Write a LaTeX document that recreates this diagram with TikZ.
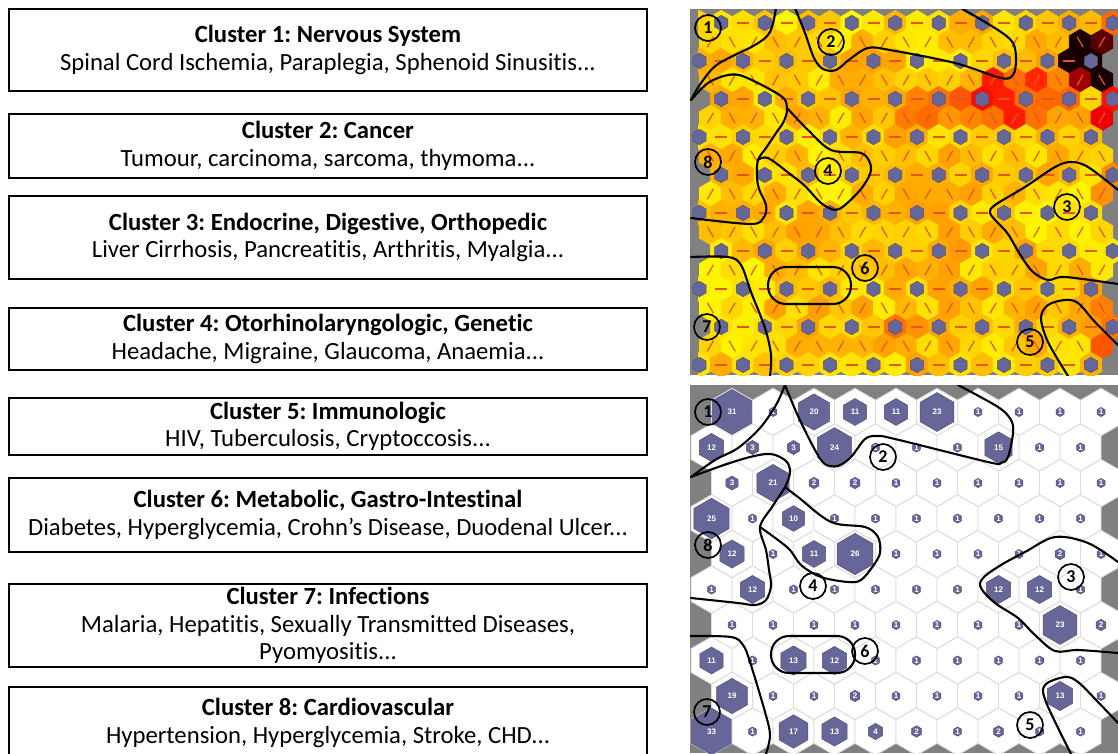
\documentclass[tikz,border=0pt]{standalone}
\usepackage{fontspec}
\setmainfont{Carlito}[Ligatures=NoCommon]
\newfontfamily\hitsfont{Liberation Sans}
\frenchspacing
\definecolor{somblue}{RGB}{102,102,153}
\definecolor{somedge}{RGB}{80,80,125}
\definecolor{panelgray}{RGB}{128,128,128}
\definecolor{cellgray}{RGB}{220,220,220}
\definecolor{linkred}{RGB}{232,84,30}

\tikzset{
  declare function={
    bump(\qx,\qy,\ox,\oy,\amp,\sx,\sy)=\amp*min(1,2*max(0,1-((\qx-\ox)/\sx)*((\qx-\ox)/\sx)-((\qy-\oy)/\sy)*((\qy-\oy)/\sy)));
  },
  clusterbox/.style={draw, line width=1.7pt, minimum width=638pt, inner sep=0pt,
    align=center, font=\fontsize{24.7}{27.5}\selectfont},
  ring/.style={circle, draw, line width=1.7pt, minimum size=26pt, inner sep=0pt,
    font=\bfseries\fontsize{18}{18}\selectfont},
  outline/.style={line width=2.1pt, line cap=round, line join=round},
  hitnum/.style={text=white, inner sep=0pt, font=\hitsfont\bfseries\fontsize{8}{8}\selectfont},
  link/.style={draw=linkred, line width=1.2pt},
  neuron/.style={fill=somblue, draw=somedge, line width=0.5pt},
}

\begin{document}
\begin{tikzpicture}[x=1pt,y=-1pt]
\useasboundingbox (0,0) rectangle (1118,753);
\clip (0,0) rectangle (1118,753);

% ---------------- cluster descriptions ----------------
\node[clusterbox, minimum height=82pt] (c1) at (328,50)
  {\textbf{Cluster 1: Nervous System}\\Spinal Cord Ischemia, Paraplegia, Sphenoid Sinusitis...};
\node[clusterbox, minimum height=64pt] (c2) at (328,146)
  {\textbf{Cluster 2: Cancer}\\Tumour, carcinoma, sarcoma, thymoma...};
\node[clusterbox, minimum height=83pt] (c3) at (328,237.5)
  {\textbf{Cluster 3: Endocrine, Digestive, Orthopedic}\\Liver Cirrhosis, Pancreatitis, Arthritis, Myalgia...};
\node[clusterbox, minimum height=62pt] (c4) at (328,339)
  {\textbf{Cluster 4: Otorhinolaryngologic, Genetic}\\Headache, Migraine, Glaucoma, Anaemia...};
\node[clusterbox, minimum height=57pt] (c5) at (328,426.5)
  {\textbf{Cluster 5: Immunologic}\\HIV, Tuberculosis, Cryptoccosis...};
\node[clusterbox, minimum height=74pt] (c6) at (328,515)
  {\textbf{Cluster 6: Metabolic, Gastro-Intestinal}\\Diabetes, Hyperglycemia, Crohn’s Disease, Duodenal Ulcer...};
\node[clusterbox, minimum height=83pt] (c7) at (328,625.5)
  {\textbf{Cluster 7: Infections}\\Malaria, Hepatitis, Sexually Transmitted Diseases,\\Pyomyositis...};
\node[clusterbox, minimum height=72pt] (c8) at (328,723)
  {\textbf{Cluster 8: Cardiovascular}\\Hypertension, Hyperglycemia, Stroke, CHD...};

% ---------------- neighbour distance map ----------------
\fill[panelgray] (690,9) rectangle (1118,375);
\begin{scope}
\clip (698,9) rectangle (1118,375);
\pgfmathsetseed{12}
\foreach \j in {0,...,18}{
  \foreach \i in {0,...,19}{
    \pgfmathtruncatemacro\jm{mod(\j,4)}
    \pgfmathtruncatemacro\keep{((\jm==0)&&(\i==0)&&(\j>0))||((\jm!=0)&&(\i==19))?0:1}
    \ifnum\keep=1
      \pgfmathsetmacro\hx{699.5+21.75*\i+10.875*mod(\j,2)}
      \pgfmathsetmacro\hy{23+19*\j}
      \pgfmathsetmacro\hv{0.02+0.32*rnd
        +bump(\hx,\hy,1091,61,0.85,30,30)
        +bump(\hx,\hy,1102,80,0.25,9,9)
        +bump(\hx,\hy,1015,100,0.45,65,35)
        +bump(\hx,\hy,930,105,0.22,50,30)
        +bump(\hx,\hy,1110,112,0.55,20,25)
        +bump(\hx,\hy,1110,190,0.35,20,25)
        +bump(\hx,\hy,1103,315,0.3,20,45)
        +bump(\hx,\hy,910,328,0.3,30,20)
        +bump(\hx,\hy,955,245,0.2,25,20)
        +bump(\hx,\hy,1112,23,0.25,15,15)
        +bump(\hx,\hy,1060,215,-0.2,50,40)
        +bump(\hx,\hy,730,300,-0.15,40,60)
        +bump(\hx,\hy,780,30,-0.12,80,30)
        +bump(\hx,\hy,830,170,-0.1,50,30)}
      \pgfmathsetmacro\hv{min(1,max(0,\hv))}
      \pgfmathtruncatemacro\colr{\hv<=0.8 ? 255 : 255-(\hv-0.8)*1150}
      \pgfmathtruncatemacro\colg{\hv<=0.8 ? max(0,245-250*\hv-(\hv>0.6)*(\hv-0.6)*275) : 0}
      \definecolor{hc}{RGB}{\colr,\colg,0}
      \filldraw[fill=hc, draw=hc, line width=0.6pt] (\hx,\hy)
        +(0,-12.67) -- +(10.875,-6.33) -- +(10.875,6.33) -- +(0,12.67)
        -- +(-10.875,6.33) -- +(-10.875,-6.33) -- cycle;
    \fi
  }
}
\end{scope}

\begin{scope}
\clip (690,9) rectangle (1118,375);
\foreach \j in {0,...,18}{
  \foreach \i in {0,...,19}{
    \pgfmathtruncatemacro\jm{mod(\j,4)}
    \pgfmathtruncatemacro\io{mod(\i,2)}
    \pgfmathsetmacro\hx{699.5+21.75*\i+10.875*mod(\j,2)}
    \pgfmathsetmacro\hy{23+19*\j}
    \ifodd\j
      \ifnum\i<19
        \pgfmathtruncatemacro\dk{mod((\jm-1)/2+\io,2)}
        \ifnum\dk=1
          \draw[link] (\hx,\hy) +(-3,-5.2) -- +(3,5.2);
        \else
          \draw[link] (\hx,\hy) +(3,-5.2) -- +(-3,5.2);
        \fi
      \fi
    \else
      \ifnum\jm=0
        \ifnum\i>0
          \ifnum\io=1
            \filldraw[neuron] (\hx,\hy) +(0,-7.7) -- +(6.67,-3.85) -- +(6.67,3.85)
              -- +(0,7.7) -- +(-6.67,3.85) -- +(-6.67,-3.85) -- cycle;
          \else
            \draw[link] (\hx,\hy) +(-6,0) -- +(6,0);
          \fi
        \fi
      \else
        \ifnum\i<19
          \ifnum\io=0
            \filldraw[neuron] (\hx,\hy) +(0,-7.7) -- +(6.67,-3.85) -- +(6.67,3.85)
              -- +(0,7.7) -- +(-6.67,3.85) -- +(-6.67,-3.85) -- cycle;
          \else
            \draw[link] (\hx,\hy) +(-6,0) -- +(6,0);
          \fi
        \fi
      \fi
    \fi
  }
}

% cluster borders on the distance map
\draw[outline] plot[smooth, tension=0.55] coordinates
  {(776,8) (770,32) (755,45) (718,64) (701,83) (691,100)};
\draw[outline] plot[smooth, tension=0.55] coordinates
  {(691,100) (708,83) (728,75) (745,77) (781,96) (787,108) (784,121) (776,133)
   (766,148) (758,160) (757,176) (759,189) (766,205) (764,217) (751,224) (691,218)};
\draw[outline] plot[smooth, tension=0.55] coordinates
  {(787,108) (808,130) (831,150) (861,153) (870,163) (870,174) (861,189)
   (845,205) (835,210) (821,203) (805,186) (790,174) (768,158) (758,160)};
\draw[outline] plot[smooth, tension=0.55] coordinates
  {(795,8) (805,33) (814,58) (823,69) (836,70) (850,59) (868,48) (890,50)
   (955,63) (1001,78) (1013,75) (1016,60) (1013,43) (998,30) (961,8)};
\draw[outline] plot[smooth, tension=0.55] coordinates
  {(1118,190) (1088,167) (1071,162) (1055,167) (1025,187) (995,205) (990,213)
   (998,223) (1008,234) (1021,256) (1033,272) (1048,280) (1065,277) (1118,284)};
\draw[outline, rounded corners=18pt] (768,267) rectangle (851,304);
\draw[outline] plot[smooth, tension=0.55] coordinates
  {(691,257) (728,257) (741,265) (751,292) (765,328) (771,355) (770,376)};
\draw[outline] plot[smooth, tension=0.55] coordinates
  {(1068,376) (1048,342) (1041,318) (1048,305) (1065,300) (1078,303) (1095,322) (1118,345)};
\end{scope}

\node[ring] (t1) at (708,28) {1};
\node[ring] (t2) at (831,42) {2};
\node[ring] (t8) at (708,162) {8};
\node[ring] (t4) at (828,171) {4};
\node[ring] (t3) at (1067,207) {3};
\node[ring] (t6) at (865,268) {6};
\node[ring] (t7) at (707,327) {7};
\node[ring] (t5) at (1030,342) {5};

% ---------------- sample hits map ----------------
\fill[panelgray] (690,385) rectangle (1118,753);
\begin{scope}
\clip (690,385) rectangle (1118,753);
\foreach \row [count=\ri from 0] in
  {{31,1,20,11,11,23,1,1,1,1},{12,3,3,24,1,1,1,15,1,1},{3,21,2,2,1,1,1,1,1,1},
   {25,1,10,1,1,1,1,1,1,1},{12,1,11,26,1,1,1,1,2,1},{1,12,1,1,1,1,1,12,12,1},
   {1,1,1,1,1,1,1,1,23,2},{11,1,13,12,1,1,1,1,1,1},{19,1,1,2,1,1,1,1,13,1},
   {33,1,17,13,4,2,1,2,1,1}}{
  \foreach \h [count=\ci from 0] in \row {
    \pgfmathsetmacro\gx{(mod(\ri,2)==0 ? 732 : 711.5)+41*\ci}
    \pgfmathsetmacro\gy{412+35.5*\ri}
    \pgfmathsetmacro\hr{max(4.6,23.3*sqrt(\h/33))}
    \filldraw[fill=white, draw=cellgray, line width=0.9pt] (\gx,\gy)
      +(0,-23.67) -- +(20.5,-11.83) -- +(20.5,11.83) -- +(0,23.67)
      -- +(-20.5,11.83) -- +(-20.5,-11.83) -- cycle;
    \filldraw[neuron] (\gx,\gy)
      +(0,-\hr) -- +(0.866*\hr,-0.5*\hr) -- +(0.866*\hr,0.5*\hr) -- +(0,\hr)
      -- +(-0.866*\hr,0.5*\hr) -- +(-0.866*\hr,-0.5*\hr) -- cycle;
    \node[hitnum] (h\ri-\ci) at (\gx,\gy) {\h};
  }
}

% cluster borders on the hits map
\draw[outline] plot[smooth, tension=0.55] coordinates
  {(785,385) (776,405) (760,428) (738,448) (715,460) (691,477)};
\draw[outline] plot[smooth, tension=0.55] coordinates
  {(785,385) (798,416) (815,450) (825,464) (838,466) (851,457) (865,439) (877,436)
   (895,439) (988,462) (1001,463) (1008,457) (1013,433) (1011,420) (998,407) (958,385)};
\draw[outline] plot[smooth, tension=0.55] coordinates
  {(691,477) (721,466) (750,457) (771,454) (786,461) (790,472) (785,487) (772,507)
   (760,527) (766,550) (769,570) (771,586) (766,600) (755,605) (738,603) (691,598)};
\draw[outline] plot[smooth, tension=0.55] coordinates
  {(785,487) (798,497) (831,522) (865,527) (878,537) (880,553) (873,566) (861,580)
   (848,582) (821,577) (801,565) (788,548) (760,527)};
\draw[outline] plot[smooth, tension=0.55] coordinates
  {(1118,562) (1088,543) (1055,537) (1025,552) (1001,565) (983,578) (981,588)
   (995,603) (1018,618) (1035,635) (1055,651) (1078,650) (1118,653)};
\draw[outline, rounded corners=18pt] (771,636) rectangle (855,673);
\draw[outline] plot[smooth, tension=0.55] coordinates
  {(690,636) (731,637) (743,645) (750,662) (765,712) (770,735) (766,754)};
\draw[outline] plot[smooth, tension=0.55] coordinates
  {(1071,754) (1046,702) (1045,685) (1065,677) (1078,682) (1098,702) (1118,723)};
\end{scope}

\node[ring] (b1) at (708,412) {1};
\node[ring] (b2) at (883,457) {2};
\node[ring] (b8) at (708,545) {8};
\node[ring] (b4) at (813,586) {4};
\node[ring] (b3) at (1071,577) {3};
\node[ring] (b6) at (865,651) {6};
\node[ring] (b7) at (707,712) {7};
\node[ring] (b5) at (1030,725) {5};
\end{tikzpicture}
\end{document}
